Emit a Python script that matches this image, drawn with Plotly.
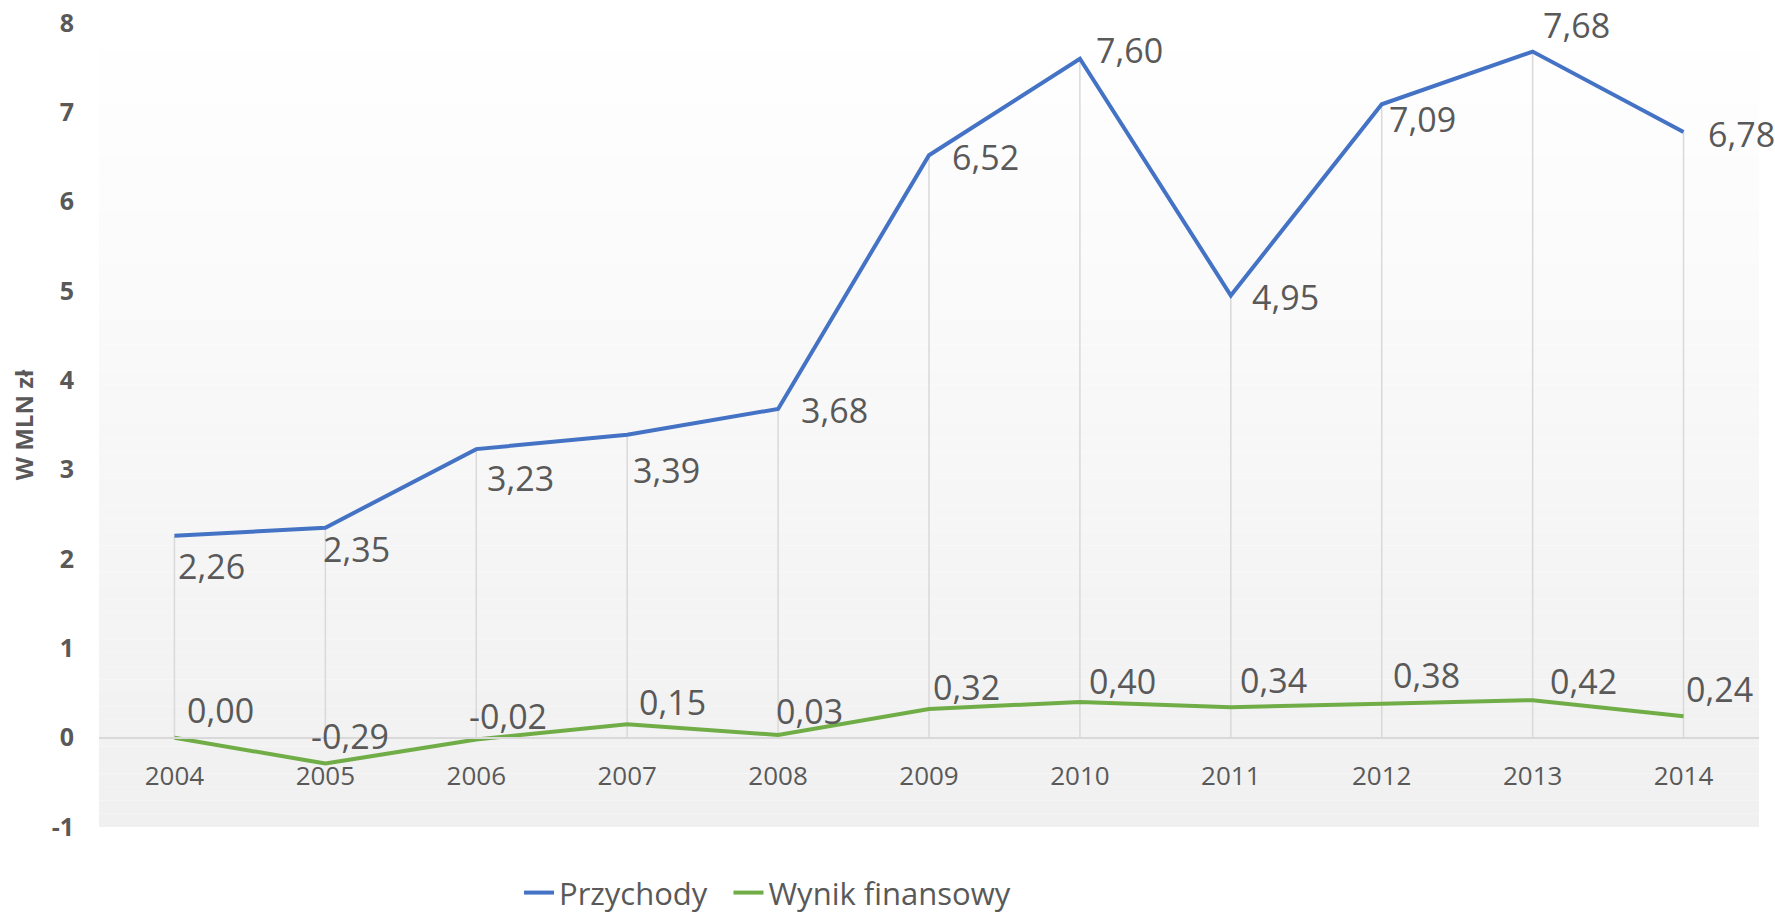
import plotly.graph_objects as go

# ---- data ----
years = ["2004", "2005", "2006", "2007", "2008", "2009", "2010", "2011", "2012", "2013", "2014"]
przychody = [2.26, 2.35, 3.23, 3.39, 3.68, 6.52, 7.60, 4.95, 7.09, 7.68, 6.78]
wynik = [0.00, -0.29, -0.02, 0.15, 0.03, 0.32, 0.40, 0.34, 0.38, 0.42, 0.24]
y_tick_vals = [-1, 0, 1, 2, 3, 4, 5, 6, 7, 8]
y_tick_text = ["-1", "0", "1", "2", "3", "4", "5", "6", "7", "8"]

# data-label pixel offsets (style only): (right shift, up shift) of the label relative to its point
przychody_label_offset = [(4, -30), (-2, -21), (11, -29), (6, -35), (23, -1), (23, -2),
                          (16, 9), (21, -2), (7, -15), (10, 27), (24, -2)]
wynik_label_offset = [(13, 28), (-14, 28), (-7, 23), (12, 22), (-2, 24), (4, 22),
                      (9, 21), (9, 27), (11, 29), (17, 19), (2, 27)]

BLUE = "#4472C4"
GREEN = "#70AD47"
TEXT = "#595959"
GRID = "#D9D9D9"
FONT = "Open Sans, Lato, DejaVu Sans, sans-serif"

def fmt(v):
    return f"{v:.2f}".replace(".", ",")

fig = go.Figure()

# drop lines from axis up to highest point
dx, dy = [], []
for yr, p in zip(years, przychody):
    dx += [yr, yr, None]
    dy += [0, p, None]
fig.add_trace(go.Scatter(x=dx, y=dy, mode="lines", line=dict(color=GRID, width=1.5),
                         showlegend=False, hoverinfo="skip"))

fig.add_trace(go.Scatter(x=years, y=przychody, mode="lines", name="Przychody\u00a0\u00a0",
                         line=dict(color=BLUE, width=4)))
fig.add_trace(go.Scatter(x=years, y=wynik, mode="lines", name="Wynik finansowy",
                         line=dict(color=GREEN, width=4)))

annotations = []
for series, offsets in ((przychody, przychody_label_offset), (wynik, wynik_label_offset)):
    for i, (v, (ox, oy)) in enumerate(zip(series, offsets)):
        annotations.append(dict(x=i, y=v, xref="x", yref="y", text=fmt(v), showarrow=False,
                                xanchor="left", yanchor="middle", xshift=ox - 2, yshift=oy,
                                font=dict(family=FONT, size=34, color=TEXT)))

# gradient plot-area background
shapes = []
N = 60
for i in range(N):
    t = (i + 0.5) / N
    c = int(round(240 + (255 - 240) * t))
    shapes.append(dict(type="rect", xref="paper", yref="paper", x0=0, x1=1,
                       y0=i / N, y1=(i + 1) / N, line=dict(width=0),
                       fillcolor=f"rgb({c},{c},{c})", layer="below"))

fig.update_layout(
    width=1775, height=916,
    margin=dict(l=99, r=16, t=23, b=89, autoexpand=False),
    paper_bgcolor="white", plot_bgcolor="rgba(0,0,0,0)",
    font=dict(family=FONT, color=TEXT),
    shapes=shapes, annotations=annotations,
    showlegend=True,
    legend=dict(orientation="h", x=0.253, xanchor="left", y=-0.082, yanchor="middle",
                font=dict(family=FONT, size=31, color=TEXT), bgcolor="rgba(0,0,0,0)",
                itemwidth=30, traceorder="normal"),
    xaxis=dict(type="category", range=[-0.5, 10.5], showgrid=False, zeroline=False,
               anchor="free", position=1 / 9, showline=True, linecolor=GRID, linewidth=1.5,
               ticks="", ticklabelstandoff=15,
               tickfont=dict(family=FONT, size=26, color=TEXT)),
    yaxis=dict(range=[-1, 8], tickvals=y_tick_vals, ticktext=y_tick_text,
               showgrid=False, zeroline=False, showline=False, ticks="",
               ticklabelstandoff=24,
               tickfont=dict(family=FONT, size=25, color=TEXT, weight="bold"),
               title=dict(text="W MLN zł", standoff=11,
                          font=dict(family=FONT, size=24, color=TEXT, weight="bold"))),
)

fig.write_html("out.html", config={"displayModeBar": False},
               post_script="document.body.style.margin='0';")
